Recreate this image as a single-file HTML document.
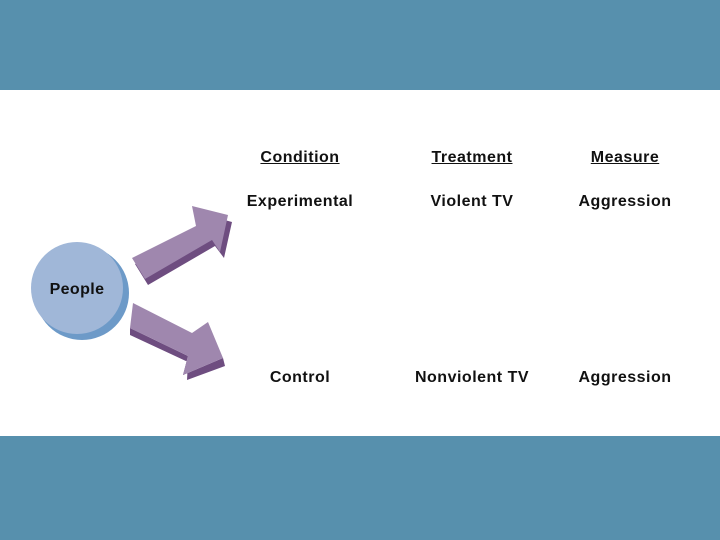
<!DOCTYPE html>
<html><head><style>
body{margin:0;width:720px;height:540px;overflow:hidden;background:#fff;font-family:"Liberation Sans",sans-serif}
.t{position:absolute;font-weight:bold;font-size:16px;letter-spacing:0.5px;color:#111;transform:translateX(-50%);white-space:nowrap}
.u{text-decoration:underline}
</style></head><body>
<div style="position:absolute;left:0;top:0;width:720px;height:90px;background:#5790ad"></div>
<div style="position:absolute;left:0;top:436px;width:720px;height:104px;background:#5790ad"></div>
<svg style="position:absolute;left:0;top:0" width="720" height="540">
<circle cx="82" cy="293" r="47" fill="#6d9ac8"/>
<circle cx="77" cy="288" r="46" fill="#a0b7d8"/>
<text x="77" y="294" font-family="Liberation Sans" font-weight="bold" font-size="16" letter-spacing="0.4" text-anchor="middle" fill="#111">People</text>
<polygon points="135,264 199,232 195,212 232,222 224,258 215,246 148,285" fill="#6e4d80"/>
<polygon points="132,258 196,226 192,206 228,215 220,252 212,240 145,279" fill="#9f87ae"/>
<polygon points="130,328 188,356 183,375 223,358 225,366 187,380 188,362 130,335" fill="#6e4d80"/>
<polygon points="133,303 192,333 208,322 223,358 183,375 188,356 130,328" fill="#9f87ae"/>
</svg>
<div class="t u" style="left:300px;top:149px">Condition</div>
<div class="t u" style="left:472px;top:149px">Treatment</div>
<div class="t u" style="left:625px;top:149px">Measure</div>
<div class="t" style="left:300px;top:193px">Experimental</div>
<div class="t" style="left:472px;top:193px">Violent TV</div>
<div class="t" style="left:625px;top:193px">Aggression</div>
<div class="t" style="left:300px;top:369px">Control</div>
<div class="t" style="left:472px;top:369px">Nonviolent TV</div>
<div class="t" style="left:625px;top:369px">Aggression</div>
</body></html>
